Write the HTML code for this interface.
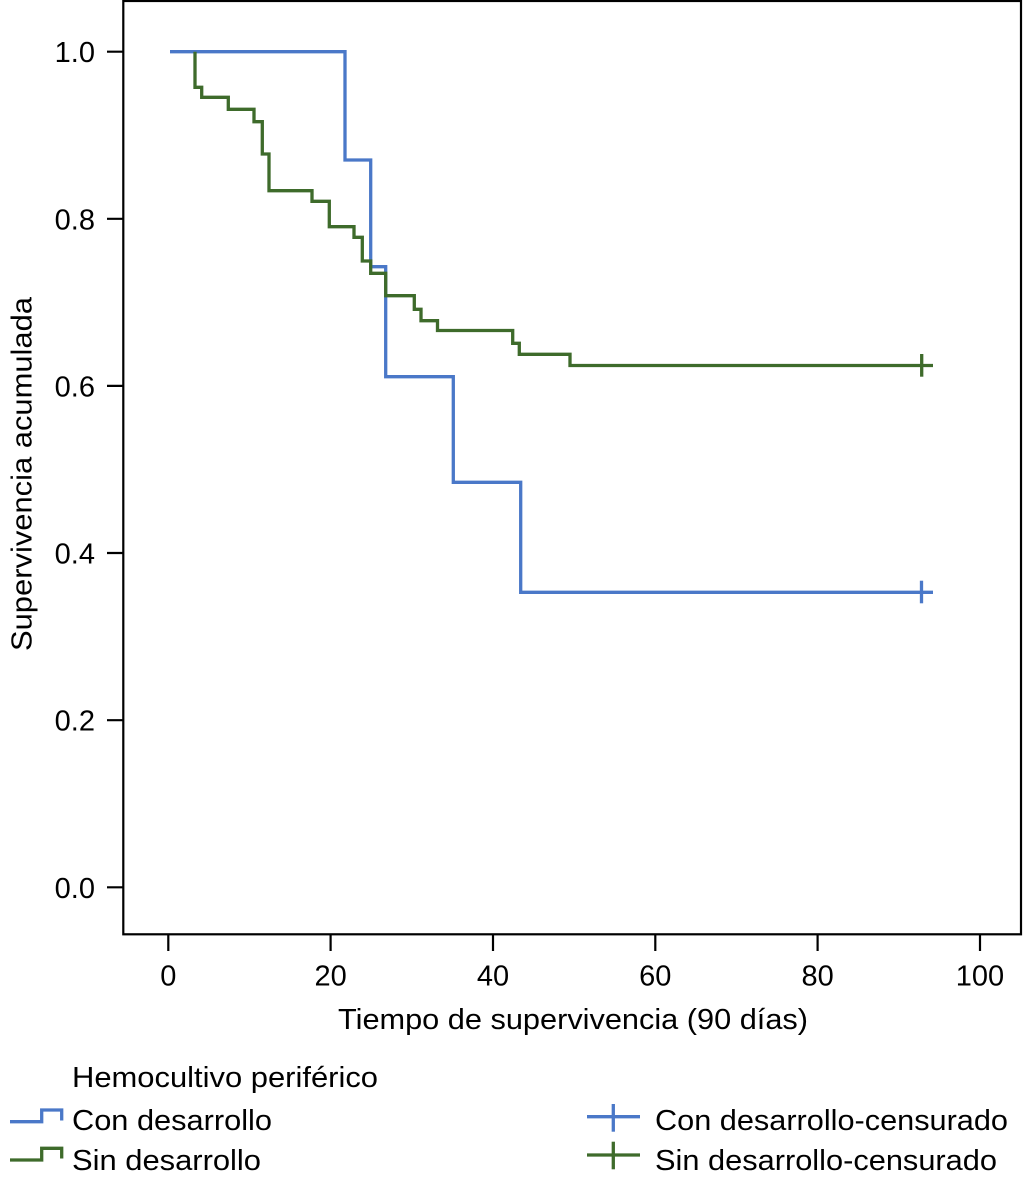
<!DOCTYPE html>
<html>
<head>
<meta charset="utf-8">
<style>
  html, body { margin:0; padding:0; background:#ffffff; }
  svg { display:block; }
  text { font-family: "Liberation Sans", Arial, sans-serif; fill:#000; }
</style>
</head>
<body>
<svg width="1024" height="1185" viewBox="0 0 1024 1185" xmlns="http://www.w3.org/2000/svg">
  <rect x="0" y="0" width="1024" height="1185" fill="#ffffff"/>

  <!-- plot frame -->
  <rect x="123.3" y="1" width="897.7" height="933.3" fill="none" stroke="#000" stroke-width="2.2"/>

  <!-- y ticks -->
  <g stroke="#000" stroke-width="2.2">
    <line x1="107" y1="51.7" x2="123.3" y2="51.7"/>
    <line x1="107" y1="218.8" x2="123.3" y2="218.8"/>
    <line x1="107" y1="385.9" x2="123.3" y2="385.9"/>
    <line x1="107" y1="553.0" x2="123.3" y2="553.0"/>
    <line x1="107" y1="720.2" x2="123.3" y2="720.2"/>
    <line x1="107" y1="887.3" x2="123.3" y2="887.3"/>
  </g>
  <g font-size="29" text-anchor="end">
    <text x="95" y="62.2">1.0</text>
    <text x="95" y="229.3">0.8</text>
    <text x="95" y="396.4">0.6</text>
    <text x="95" y="563.5">0.4</text>
    <text x="95" y="730.7">0.2</text>
    <text x="95" y="897.8">0.0</text>
  </g>

  <!-- x ticks -->
  <g stroke="#000" stroke-width="2.2">
    <line x1="168.3" y1="934.3" x2="168.3" y2="951"/>
    <line x1="330.6" y1="934.3" x2="330.6" y2="951"/>
    <line x1="493.0" y1="934.3" x2="493.0" y2="951"/>
    <line x1="655.3" y1="934.3" x2="655.3" y2="951"/>
    <line x1="817.6" y1="934.3" x2="817.6" y2="951"/>
    <line x1="980.0" y1="934.3" x2="980.0" y2="951"/>
  </g>
  <g font-size="29" text-anchor="middle">
    <text x="168.3" y="985.5">0</text>
    <text x="330.6" y="985.5">20</text>
    <text x="493.0" y="985.5">40</text>
    <text x="655.3" y="985.5">60</text>
    <text x="817.6" y="985.5">80</text>
    <text x="980.0" y="985.5">100</text>
  </g>

  <!-- axis titles -->
  <text x="338" y="1029" font-size="29" textLength="470" lengthAdjust="spacingAndGlyphs">Tiempo de supervivencia (90 días)</text>
  <text transform="translate(31.5,651) rotate(-90)" x="0" y="0" font-size="29" textLength="354" lengthAdjust="spacingAndGlyphs">Supervivencia acumulada</text>

  <!-- Blue curve: Con desarrollo -->
  <path d="M170,51.7 H345 V160 H370.7 V266.7 H385.7 V376.7 H453.3 V482.3 H520.7 V592.3 H933"
        fill="none" stroke="#4a78c8" stroke-width="3.3" stroke-linejoin="miter" stroke-linecap="butt"/>
  <line x1="921.5" y1="580.7" x2="921.5" y2="603.3" stroke="#4a78c8" stroke-width="3.3"/>

  <!-- Green curve: Sin desarrollo -->
  <path d="M195,51.7 V87.3 H201.7 V97.3 H228.3 V109.3 H254 V121.7 H262.3 V154 H269 V190.7 H312 V201.3 H329.3 V226.7 H354 V237.3 H362.3 V261 H370.7 V273.3 H385.7 V295.7 H414.3 V309.3 H421 V320.7 H437.5 V330.5 H512.7 V343.3 H519.3 V354.3 H570 V365.5 H933"
        fill="none" stroke="#3e6b2b" stroke-width="3.3" stroke-linejoin="miter" stroke-linecap="butt"/>
  <line x1="921.7" y1="354" x2="921.7" y2="376.7" stroke="#3e6b2b" stroke-width="3.3"/>

  <!-- Legend -->
  <text x="72" y="1087" font-size="29" textLength="306" lengthAdjust="spacingAndGlyphs">Hemocultivo periférico</text>

  <path d="M10,1121.7 H41.7 V1110 H61.7 V1120.5" fill="none" stroke="#4a78c8" stroke-width="3.3"/>
  <text x="72" y="1130" font-size="29" textLength="200" lengthAdjust="spacingAndGlyphs">Con desarrollo</text>

  <path d="M10,1160 H41.7 V1148.3 H61.7 V1158.5" fill="none" stroke="#3e6b2b" stroke-width="3.3"/>
  <text x="72" y="1170" font-size="29" textLength="189" lengthAdjust="spacingAndGlyphs">Sin desarrollo</text>

  <line x1="587" y1="1116.7" x2="640" y2="1116.7" stroke="#4a78c8" stroke-width="3.3"/>
  <line x1="613.3" y1="1104" x2="613.3" y2="1131.7" stroke="#4a78c8" stroke-width="3.3"/>
  <text x="655" y="1130" font-size="29" textLength="353" lengthAdjust="spacingAndGlyphs">Con desarrollo-censurado</text>

  <line x1="587" y1="1155" x2="640" y2="1155" stroke="#3e6b2b" stroke-width="3.3"/>
  <line x1="613.3" y1="1141.7" x2="613.3" y2="1169.3" stroke="#3e6b2b" stroke-width="3.3"/>
  <text x="655" y="1170" font-size="29" textLength="342" lengthAdjust="spacingAndGlyphs">Sin desarrollo-censurado</text>
</svg>
</body>
</html>
